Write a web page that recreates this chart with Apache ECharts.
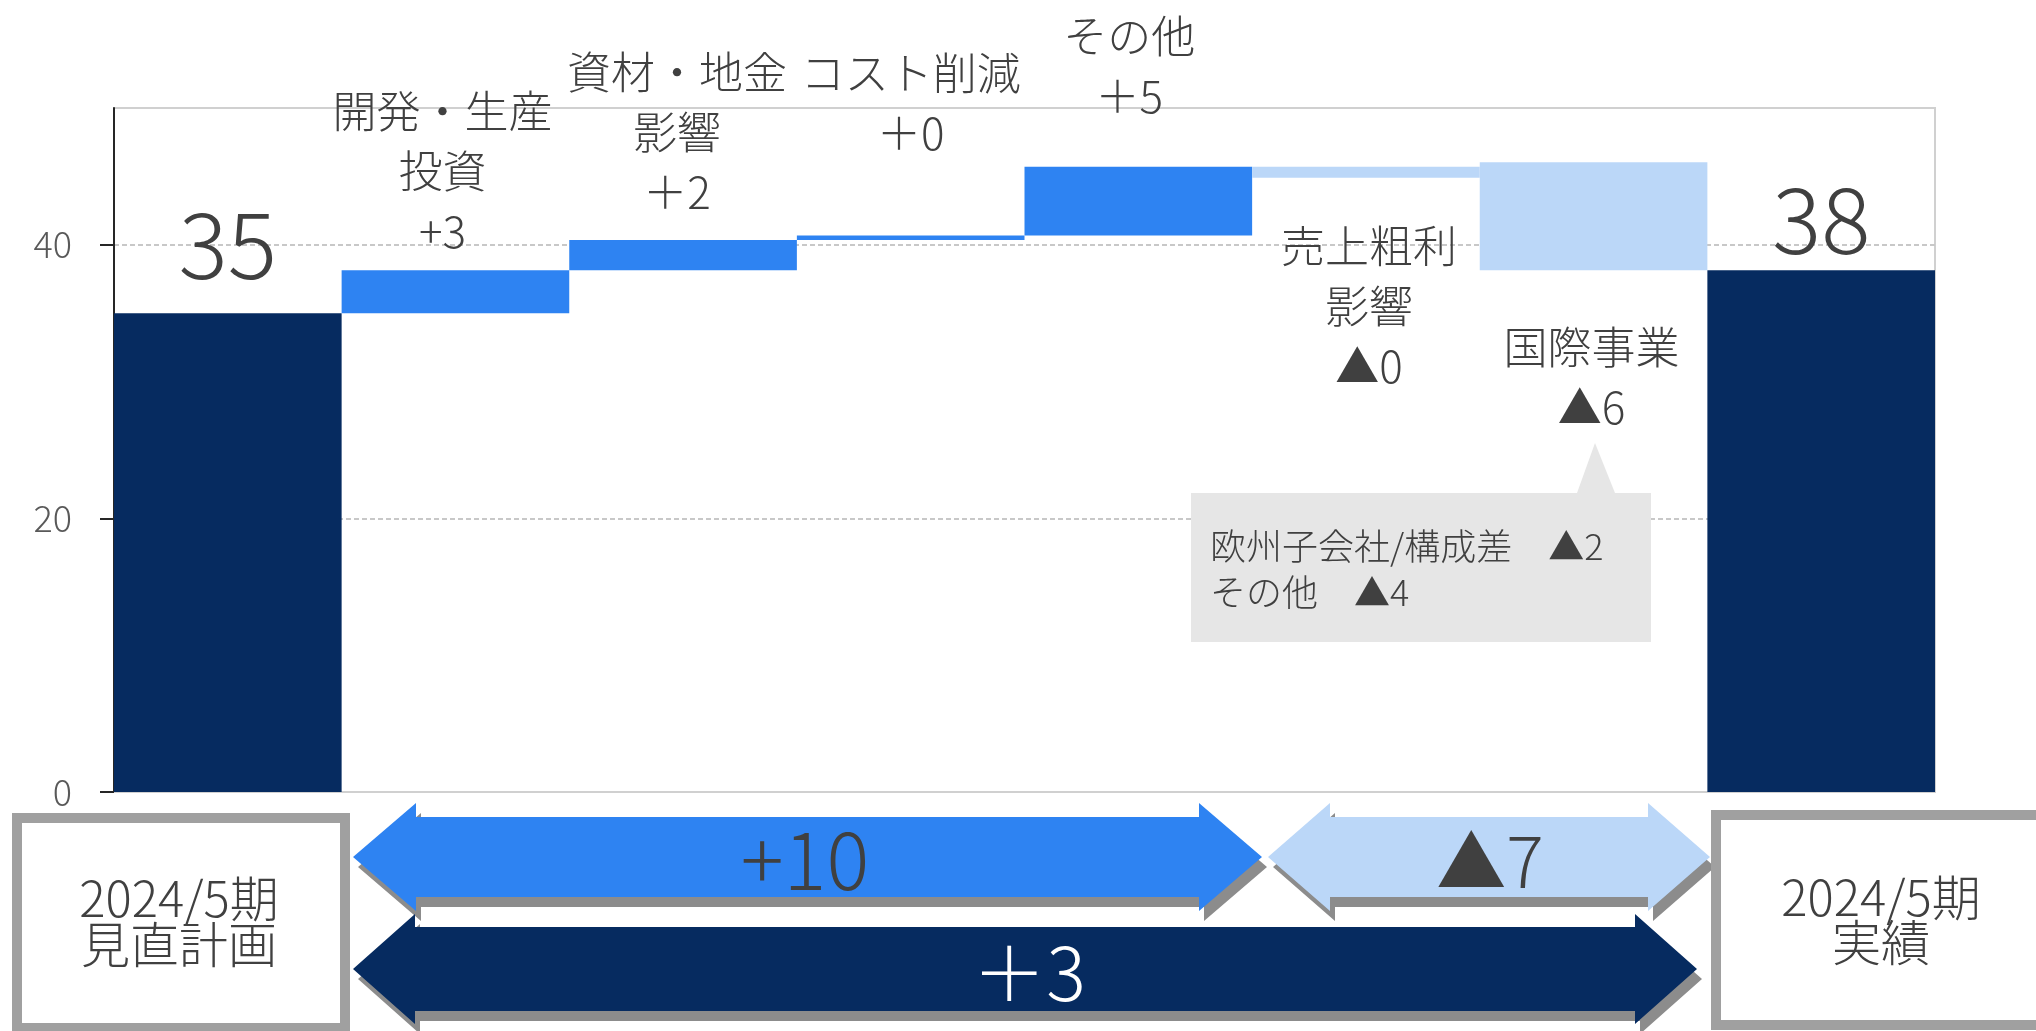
<!DOCTYPE html>
<html><head><meta charset="utf-8">
<script src="https://cdn.jsdelivr.net/npm/echarts@6/dist/echarts.min.js"></script>
<style>html,body{margin:0;padding:0;background:#fff}#c{width:2036px;height:1031px}</style>
</head><body><div id="c"></div>
<script>
// ---- data ----
const categories = ['2024/5期見直計画','開発・生産投資','資材・地金影響','コスト削減','その他','売上粗利影響','国際事業','2024/5期実績'];
const barLow  = [0, 35.0, 38.14, 40.35, 40.68, 44.90, 38.14, 0];
const barHigh = [35.0, 38.14, 40.35, 40.68, 45.71, 45.71, 46.04, 38.14];
const barKinds = ['total','up','up','up','up','down','down','total'];
const barLabels = ['35','開発・生産\n投資\n+3','資材・地金\n影響\n＋2','コスト削減\n＋0','その他\n＋5','売上粗利\n影響\n▲0','国際事業\n▲6','38'];
const yTicks = [0, 20, 40];
const arrowLabels = ['+10', '▲7', '＋3'];
const startLabel = '2024/5期\n見直計画';
const endLabel = '2024/5期\n実績';
const noteLines = ['欧州子会社/構成差　▲2', 'その他　▲4'];

// ---- styles ----
const F = "'Noto Sans CJK JP','Noto Sans',sans-serif";
const W = 300;
const TXT = '#404040';
const kindColor = { total: '#062B60', up: '#2E83F2', down: '#BBD7F8' };
const labelPlace = [
  { position: 'top', distance: 23, offset: [0, 0], fontSize: 92, lineHeight: 92 },
  { position: 'top', distance: 9, offset: [-13, 0] },
  { position: 'top', distance: 18, offset: [-6, 0] },
  { position: 'top', distance: 72, offset: [0, 0] },
  { position: 'top', distance: 40, offset: [-9, 0] },
  { position: 'bottom', distance: 39, offset: [3, 0] },
  { position: 'bottom', distance: 47, offset: [-2, 0] },
  { position: 'top', distance: 5, offset: [0, 0], fontSize: 92, lineHeight: 92 }
];

const changeData = barHigh.map((h, i) => ({
  value: h - barLow[i],
  itemStyle: { color: kindColor[barKinds[i]] },
  label: Object.assign({
    show: true, formatter: barLabels[i], color: TXT, fontFamily: F, fontWeight: W,
    fontSize: 44, lineHeight: 60, align: 'center'
  }, labelPlace[i])
}));

function arrowPts(x0, x1, cy, head, hh, bh) {
  return [[x0, cy], [x0 + head, cy - hh], [x0 + head, cy - bh], [x1 - head, cy - bh], [x1 - head, cy - hh],
          [x1, cy], [x1 - head, cy + hh], [x1 - head, cy + bh], [x0 + head, cy + bh], [x0 + head, cy + hh]];
}
function shift(pts, dx, dy) { return pts.map(p => [p[0] + dx, p[1] + dy]); }
const arrows = [
  { pts: arrowPts(353, 1262, 857, 63, 54, 40), fill: '#2E83F2', text: arrowLabels[0], tx: 805, ty: 860, fs: 80, tc: TXT },
  { pts: arrowPts(1268, 1710, 857, 62, 54, 40), fill: '#BBD7F8', text: arrowLabels[1], tx: 1490, ty: 861, fs: 70, tc: TXT },
  { pts: arrowPts(353, 1697, 969, 62, 55, 42), fill: '#062B60', text: arrowLabels[2], tx: 1029, ty: 973, fs: 74, tc: '#FFFFFF' }
];
const graphic = [];
arrows.forEach(a => {
  graphic.push({ type: 'polygon', z: 10, shape: { points: shift(a.pts, 5, 10) }, style: { fill: '#8C8C8C' } });
  graphic.push({ type: 'polygon', z: 11, shape: { points: a.pts }, style: { fill: a.fill } });
  graphic.push({ type: 'text', z: 12, style: { text: a.text, x: a.tx, y: a.ty, align: 'center', verticalAlign: 'middle', fontSize: a.fs, fontWeight: W, fontFamily: F, fill: a.tc } });
});
graphic.push(
  { type: 'rect', z: 10, shape: { x: 17, y: 818, width: 328, height: 210 }, style: { fill: '#fff', stroke: '#A0A0A0', lineWidth: 10 } },
  { type: 'text', z: 12, style: { text: startLabel, x: 179, y: 921, align: 'center', verticalAlign: 'middle', fontSize: 49, fontWeight: W, lineHeight: 46, fontFamily: F, fill: TXT } },
  { type: 'rect', z: 10, shape: { x: 1716, y: 815, width: 400, height: 210 }, style: { fill: '#fff', stroke: '#A0A0A0', lineWidth: 10 } },
  { type: 'text', z: 12, style: { text: endLabel, x: 1881, y: 920, align: 'center', verticalAlign: 'middle', fontSize: 49, fontWeight: W, lineHeight: 45, fontFamily: F, fill: TXT } },
  { type: 'polygon', z: 10, shape: { points: [[1191, 493], [1577, 493], [1595, 443], [1615, 493], [1651, 493], [1651, 642], [1191, 642]] }, style: { fill: '#E6E6E6' } },
  { type: 'text', z: 12, style: { text: noteLines.join('\n'), x: 1210, y: 569, align: 'left', verticalAlign: 'middle', fontSize: 36, fontWeight: W, lineHeight: 46, fontFamily: F, fill: TXT } }
);

const chart = echarts.init(document.getElementById('c'), null, { renderer: 'canvas' });
chart.setOption({
  animation: false,
  backgroundColor: '#fff',
  grid: { left: 114, right: 101, top: 108, bottom: 239, show: true, borderColor: '#D0D0D0', borderWidth: 2, containLabel: false },
  xAxis: {
    type: 'category', data: categories,
    axisLine: { lineStyle: { color: '#D0D0D0', width: 2 } },
    axisTick: { show: false }, axisLabel: { show: false }, splitLine: { show: false }
  },
  yAxis: {
    type: 'value', min: 0, max: 50, interval: 20,
    axisLine: { show: true, lineStyle: { color: '#262626', width: 2 } },
    axisTick: { show: true, length: 14, lineStyle: { color: '#262626', width: 2 }, customValues: yTicks },
    axisLabel: { customValues: yTicks, fontSize: 36, fontWeight: W, color: '#595959', margin: 42, fontFamily: F },
    splitLine: { show: true, lineStyle: { type: [5, 3], color: '#C8C8C8', width: 2 } }
  },
  series: [
    { type: 'bar', stack: 'w', data: barLow, itemStyle: { color: 'rgba(0,0,0,0)' }, silent: true, barCategoryGap: '0%' },
    { type: 'bar', stack: 'w', data: changeData, barCategoryGap: '0%' }
  ],
  graphic: graphic
});
</script></body></html>
